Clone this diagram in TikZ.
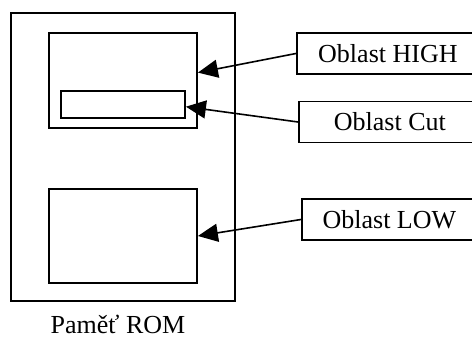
\documentclass[tikz,border=0pt]{standalone}
\usepackage{fontspec}
\setmainfont{Liberation Serif}
\usetikzlibrary{arrows.meta}

\begin{document}
\begin{tikzpicture}[x=0.5pt,y=-0.5pt,line width=0.9pt,
    area/.style={draw,inner sep=0pt},
    tag/.style={draw,inner sep=0pt,minimum height=20.5pt,anchor=west,font=\fontsize{13}{15}\selectfont},
    pointer/.style={-{Triangle[length=10pt,width=9pt]},line width=0.8pt}]
    \useasboundingbox (0,0) rectangle (472,340);
    \clip (0,0) rectangle (472,340);
    \node[area,minimum width=112pt,minimum height=144pt] (rom) at (123,157) {};
    \node[area,minimum width=74pt,minimum height=47.5pt] (high) at (123,80.5) {};
    \node[area,minimum width=62pt,minimum height=13.5pt] (cut) at (123,104.5) {};
    \node[area,minimum width=74pt,minimum height=47pt] (low) at (123,236) {};
    \node[anchor=base,font=\fontsize{13}{15}\selectfont] (romlbl) at (118,334) {Paměť ROM};
    \node[tag,minimum width=91pt] (highlbl) at (296,53.5) {Oblast HIGH};
    \node[tag,minimum width=91pt] (cutlbl) at (298,122) {Oblast Cut};
    \node[tag,minimum width=87.5pt] (lowlbl) at (301,219.5) {Oblast LOW};
    \draw[pointer] (highlbl.west) -- (high.6.5);
    \draw[pointer] (cutlbl.west) -- (cut.-2);
    \draw[pointer] (lowlbl.west) -- (low.east);
\end{tikzpicture}
\end{document}
